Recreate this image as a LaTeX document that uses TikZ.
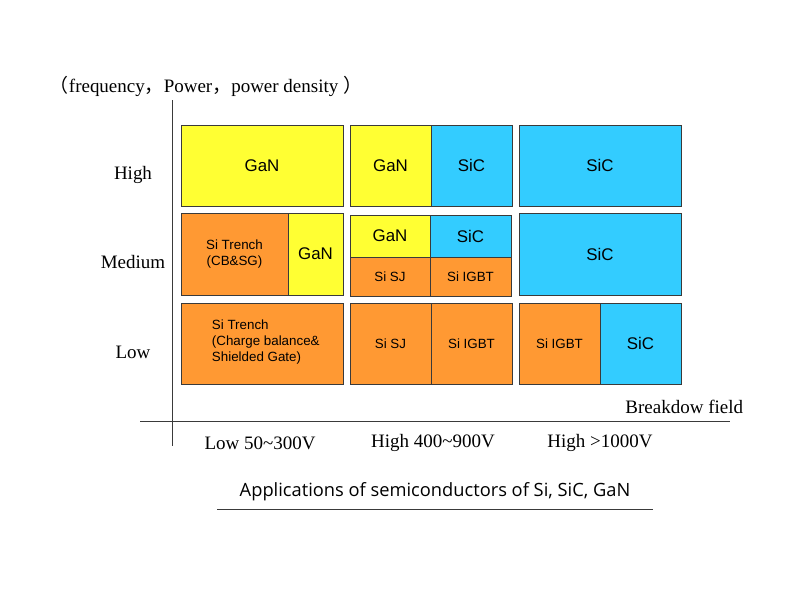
\documentclass[tikz,border=0pt]{standalone}
\usepackage{xcolor}
\usepackage{fontspec}
\setmainfont{Liberation Serif}
\setsansfont{Liberation Sans}
\newfontfamily\titlefont{Open Sans}
\newfontfamily\cjk{Noto Sans CJK SC}
\usepackage{tikz}
\usetikzlibrary{positioning}

\definecolor{ganyellow}{HTML}{FFFF33}
\definecolor{sicblue}{HTML}{33CCFF}
\definecolor{siorange}{HTML}{FF9933}
\definecolor{linegray}{HTML}{3A3A3A}

\tikzset{
  cell/.style={draw=linegray, line width=0.7pt},
  gan/.style={cell, fill=ganyellow},
  sic/.style={cell, fill=sicblue},
  sicell/.style={cell, fill=siorange},
  bigtext/.style={font=\sffamily\fontsize{12}{14}\selectfont},
  smalltext/.style={font=\sffamily\fontsize{9.5}{11.5}\selectfont},
  leveltext/.style={font=\fontsize{13.5}{15}\selectfont},
  axis/.style={draw=linegray, line width=0.6pt},
}

\begin{document}
\begin{tikzpicture}[x=0.025cm, y=-0.025cm]
\useasboundingbox (0,0) rectangle (800,600);

% axes
\coordinate (ytop) at (172,100);
\coordinate (ybot) at (172,446);
\coordinate (xleft) at (140,421);
\coordinate (xright) at (730,421);
\draw [axis] (ytop) -- (ybot);
\draw [axis] (xleft) -- (xright);

\node (ylabel) at (206,86) [leveltext] {{\cjk （}frequency{\cjk ，}Power{\cjk ，}power density {\cjk ）}};
\node (xlabel) at (748,407) [leveltext, anchor=east] {Breakdow field};

\node (high) at (133,175) [leveltext] {High};
\node (medium) at (133,262) [leveltext] {Medium};
\node (low) at (133,352) [leveltext] {Low};

\node (lowv) at (260,443) [leveltext] {Low 50\textasciitilde300V};
\node (midv) at (433,443) [leveltext] {High 400\textasciitilde900V};
\node (highv) at (600,443) [leveltext] {High >1000V};

% high row
\draw [gan] (181,125) rectangle node (hgan1) [bigtext] {GaN} (343,206);
\draw [gan] (350,125) rectangle node (hgan2) [bigtext] {GaN} (431,206);
\draw [sic] (431,125) rectangle node (hsic2) [bigtext] {SiC} (512,206);
\draw [sic] (519,125) rectangle node (hsic3) [bigtext] {SiC} (681,206);

% medium row
\draw [sicell] (181,213) rectangle node (mtrench) [smalltext, align=center] {Si Trench\\(CB\&SG)} (288,295);
\draw [gan] (288,213) rectangle node (mgan1) [bigtext] {GaN} (343,295);
\draw [gan] (350,215) rectangle node (mgan2) [bigtext] {GaN} (430,257);
\draw [sic] (430,215) rectangle node (msic2) [bigtext] {SiC} (511,257);
\draw [sicell] (350,257) rectangle node (msj) [smalltext] {Si SJ} (430,296);
\draw [sicell] (430,257) rectangle node (migbt) [smalltext] {Si IGBT} (511,296);
\draw [sic] (519,213) rectangle node (msic3) [bigtext] {SiC} (681,295);

% low row
\draw [sicell] (181,303) rectangle (343,384);
\node (ltrench) at (207,342) [smalltext, anchor=west, align=left] {Si Trench\\(Charge balance\&\\Shielded Gate)};
\draw [sicell] (350,303) rectangle node (lsj) [smalltext] {Si SJ} (431,384);
\draw [sicell] (431,303) rectangle node (ligbt2) [smalltext] {Si IGBT} (512,384);
\draw [sicell] (519,303) rectangle node (ligbt3) [smalltext] {Si IGBT} (600,384);
\draw [sic] (600,303) rectangle node (lsic3) [bigtext] {SiC} (681,384);

% title
\node (title) at (435,492) [font=\titlefont\fontsize{13}{15}\selectfont] {Applications of semiconductors of Si, SiC, GaN};
\coordinate (ulleft) at (217,509);
\coordinate (ulright) at (653,509);
\draw [axis] (ulleft) -- (ulright);
\end{tikzpicture}
\end{document}
